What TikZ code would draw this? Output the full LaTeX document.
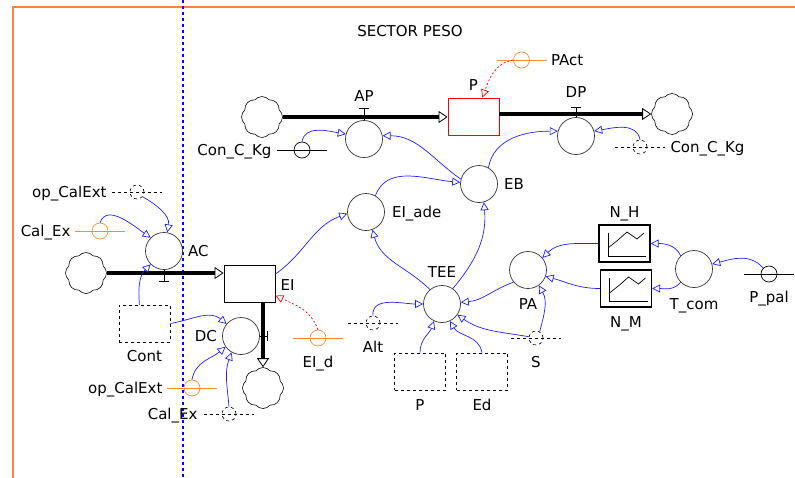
\documentclass[tikz,border=0pt]{standalone}
\usepackage{fontspec}
\setmainfont{DejaVu Sans}
\usetikzlibrary{positioning,arrows.meta,calc,shapes.symbols}
\definecolor{framec}{RGB}{255,128,64}
\definecolor{inpc}{RGB}{255,140,40}
\definecolor{linkc}{RGB}{30,30,255}
\tikzset{
  aux/.style={circle, draw=black!80, line width=0.7pt, minimum size=37pt, inner sep=0pt},
  stock/.style={draw, line width=0.8pt, minimum width=51pt, minimum height=37pt, inner sep=0pt},
  dbox/.style={stock, dashed},
  src/.style={cloud, cloud puffs=8, cloud puff arc=100, aspect=1, draw, line width=0.6pt,
              minimum size=41pt, inner sep=0pt},
  inp/.style={circle, draw=#1, line width=0.7pt, minimum size=16pt, inner sep=0pt},
  ghost/.style={circle, draw, dashed, line width=0.6pt, minimum size=14pt, inner sep=0pt},
  tbl/.style={draw, line width=1.3pt, minimum width=51pt, minimum height=37pt, inner sep=0pt,
    path picture={
      \draw[line width=0.7pt] ([shift={(-16.5,10.5)}]path picture bounding box.center)
        -- ++(0,-23) -- ++(38,0);
      \draw[line width=0.7pt] ([shift={(-16.5,-4.5)}]path picture bounding box.center)
        -- ++(10,8) -- ++(9,8) -- ++(10,-7) -- ++(7,6);
    }},
  flow/.style={line width=3.5pt, -{Triangle[open, length=9pt, width=12pt, line width=0.8pt]}},
  valve/.style={line width=1pt},
  link/.style={linkc, line width=0.7pt, -{Triangle[open, length=8pt, width=8pt]}},
  redlink/.style={red, line width=0.7pt, dash pattern=on 2pt off 2pt,
                  -{Triangle[open, length=8pt, width=8pt]}},
  lbl/.style={font=\fontsize{15}{18}\selectfont, inner sep=0pt, text height=11pt, text depth=1pt},
}
\begin{document}
\begin{tikzpicture}[x=1pt, y=1pt]
\useasboundingbox (0,0) rectangle (795,-477);

% frame and divider
\draw[framec, line width=2pt] (13,-480) -- (13,-7) -- (800,-7);
\draw[draw=blue, line width=1.3pt, dash pattern=on 3pt off 3pt] (183,0) -- (183,-477);
\node[lbl] (title) at (410,-31) {SECTOR PESO};

% ---------------------------------------------------------------- top chain
\node[src] (src1) at (262,-117) {};
\node[stock, draw=red] (P) at (473.5,-116.5) {};
\node[src] (sink1) at (672,-114) {};
\node[aux] (AP) at (364,-139) {};
\node[aux] (DP) at (576,-136) {};
\draw[flow] (src1) -- (src1 -| P.west);
\draw[flow] (P.east |- sink1) -- (sink1);
\draw[valve] (AP.north) -- ++(0,12) ++(-5,0) -- ++(10,0);
\draw[valve] (DP.north) -- ++(0,10) ++(-5,0) -- ++(10,0);
\node[lbl, above=17pt of AP] {AP};
\node[lbl, above=18pt of DP] {DP};
\node[lbl, above=6pt of P] {P};

\node[inp=black] (ccL) at (302,-150) {};
\node[lbl, left=22pt of ccL] {Con\_C\_Kg};
\node[ghost] (ccR) at (640,-147) {};
\node[lbl, right=23pt of ccR] {Con\_C\_Kg};
\node[inp=inpc] (PAct) at (521.5,-60) {};
\node[lbl, right=21pt of PAct] {PAct};

% ---------------------------------------------------------------- middle
\node[aux] (EB) at (479,-184) {};
\node[lbl, right=6pt of EB] {EB};
\node[aux] (EIa) at (366,-212) {};
\node[lbl, right=7pt of EIa] {EI\_ade};
\node[aux] (TEE) at (442,-304) {};
\node[lbl, above=6pt of TEE] {TEE};
\node[aux] (PA) at (528,-270) {};
\node[lbl, below=9pt of PA] {PA};

\node[tbl] (NH) at (624.5,-243.5) {};
\node[lbl, above=6pt of NH] {N\_H};
\node[tbl] (NM) at (626,-288.5) {};
\node[lbl, below=9pt of NM] {N\_M};
\node[aux] (Tcom) at (694,-269) {};
\node[lbl, below=10pt of Tcom] {T\_com};
\node[inp=black] (Ppal) at (769,-274) {};
\node[lbl, below=9pt of Ppal] {P\_pal};

\node[ghost] (S) at (536,-338) {};
\node[lbl, below=11pt of S] {S};
\node[ghost] (Alt) at (373,-323) {};
\node[lbl, below=11pt of Alt] {Alt};
\node[dbox] (Pin) at (420,-371.5) {};
\node[lbl, below=9pt of Pin] {P};
\node[dbox] (Ed) at (482,-371.5) {};
\node[lbl, below=9pt of Ed] {Ed};

% ---------------------------------------------------------------- lower left chain
\node[src] (src2) at (86,-273) {};
\node[stock] (EI) at (249.5,-283.5) {};
\node[lbl, right=5pt of EI, yshift=-2pt] {EI};
\node[src] (sink2) at (263,-388) {};
\node[aux] (AC) at (164,-251) {};
\node[lbl, right=5pt of AC] {AC};
\node[aux] (DC) at (241,-336) {};
\node[lbl, left=5pt of DC] {DC};
\draw[flow] (src2) -- (src2 -| EI.west);
\draw[flow] (EI.south -| sink2) -- (sink2);
\draw[valve] (AC.south) -- ++(0,-12) ++(-5,0) -- ++(10,0);
\draw[valve] (DC.east) -- ++(8,0) ++(0,-5) -- ++(0,10);

\node[dbox] (Cont) at (144.5,-323.5) {};
\node[lbl, below=8pt of Cont] {Cont};
\node[ghost] (opA) at (137,-192) {};
\node[lbl, left=23pt of opA] {op\_CalExt};
\node[inp=inpc] (calA) at (100,-231) {};
\node[lbl, left=21pt of calA] {Cal\_Ex};
\node[inp=inpc] (opB) at (192,-388) {};
\node[lbl, left=21pt of opB] {op\_CalExt};
\node[ghost] (calB) at (229,-414) {};
\node[lbl, left=24pt of calB] {Cal\_Ex};
\node[inp=inpc] (EId) at (318,-338) {};
\node[lbl, below=10pt of EId] {EI\_d};

% input and ghost bars
\foreach \n/\c in {ccL/black, Ppal/black, PAct/inpc, calA/inpc, opB/inpc, EId/inpc}
  \draw[\c, line width=0.7pt] ($(\n)+(-25,0)$) -- ($(\n)+(25,0)$);
\foreach \n in {ccR, opA, calB, S, Alt}
  \draw[dashed, line width=0.6pt] ($(\n)+(-25,0)$) -- ($(\n)+(25,0)$);

% ---------------------------------------------------------------- connectors
\draw[link] (ccL.north) to[out=80, in=170] (AP.165);
\draw[link] (ccR.north) to[out=100, in=10] (DP.15);
\draw[link] (EB.165) to[out=145, in=0] (AP.10);
\draw[link] (EB.60) to[out=80, in=180] (DP.165);
\draw[link] (EIa.60) to[out=70, in=175] (EB.175);
\draw[link] (EI.20) to[out=35, in=200] (EIa.185);
\draw[link] (TEE.130) to[out=135, in=-75] (EIa.-70);
\draw[link] (TEE.55) to[out=50, in=-85] (EB.-75);
\draw[link] (PA.220) to[out=200, in=5] (TEE.5);
\draw[link] (NH.west) to[out=180, in=45] (PA.40);
\draw[link] (NM.west) to[out=180, in=-15] (PA.-20);
\draw[link] (Tcom.135) to[out=115, in=0] (NH.east);
\draw[link] (Tcom.-135) to[out=-130, in=0] (NM.east);
\draw[link] (Ppal.135) to[out=130, in=15] (Tcom.15);
\draw[link] (S.170) to[out=170, in=-35] (TEE.-35);
\draw[link] (S.60) to[out=75, in=-60] (PA.-55);
\draw[link] (Alt.north) to[out=95, in=180] (TEE.west);
\draw[link] (Pin.north) to[out=90, in=-110] (TEE.-115);
\draw[link] (Ed.north) to[out=100, in=-60] (TEE.-65);
\draw[link] (opA.-40) to[out=-30, in=80] (AC.80);
\draw[link] (calA.north) to[out=70, in=145] (AC.135);
\draw[link] (Cont.105) to[out=95, in=-135] (AC.-135);
\draw[link] (Cont.east) to[out=10, in=140] (DC.140);
\draw[link] (opB.north) to[out=80, in=-140] (DC.-145);
\draw[link] (calB.north) to[out=95, in=-110] (DC.-120);
\draw[redlink] (EId.north) to[out=110, in=-25] (EI.-25);
\draw[redlink] (PAct.west) to[out=190, in=70] (P.65);

\end{tikzpicture}
\end{document}
